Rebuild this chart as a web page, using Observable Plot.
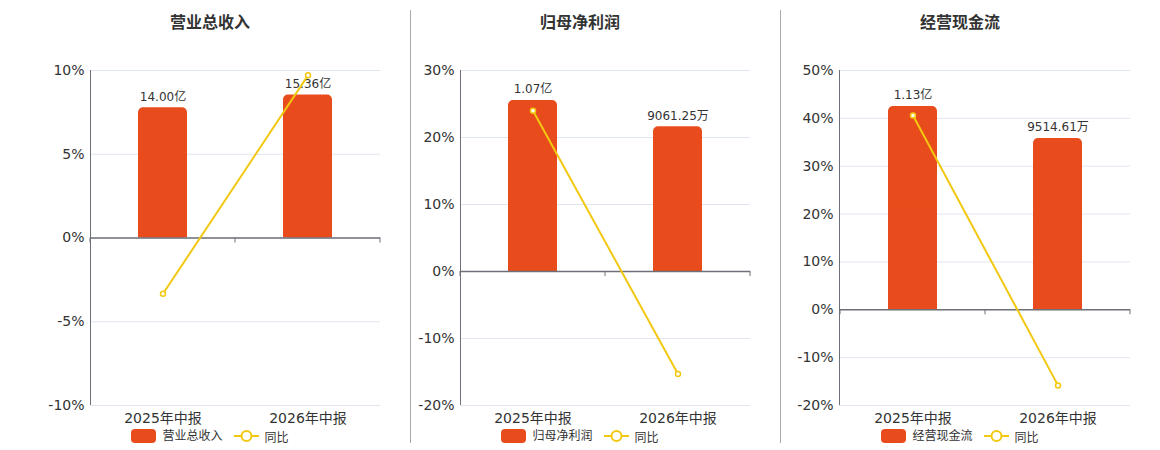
<!DOCTYPE html>
<html>
<head>
<meta charset="utf-8">
<script src="https://cdn.jsdelivr.net/npm/d3@7"></script>
<script src="https://cdn.jsdelivr.net/npm/@observablehq/plot@0.6"></script>
<style>
  html, body { margin: 0; padding: 0; background: #fff; }
  #root { position: relative; width: 1160px; height: 450px; font-family: "DejaVu Sans", "Noto Sans CJK SC", sans-serif; color: #333; }
  .title { position: absolute; top: 0; height: 45px; line-height: 45px; width: 300px; text-align: center; font-size: 16px; font-weight: bold; color: #333; }
  .divider { position: absolute; top: 10px; height: 433px; width: 1px; background: #AAAAA5; }
  .legend { position: absolute; top: 429px; height: 14px; width: 300px; display: flex; justify-content: center; align-items: center; font-size: 12px; color: #333; }
  .legend .sw { width: 25px; height: 14px; border-radius: 4px; margin-right: 6px; }
  .legend .lbl { margin-right: 11px; line-height: 14px; }
  .legend svg { margin-right: 6px; }
  .panel { position: absolute; top: 45px; }
</style>
</head>
<body>
<div id="root"></div>
<script>
const categories = ["2025年中报", "2026年中报"];
const titles = ["营业总收入", "归母净利润", "经营现金流"];

const revenueValues = [14.00, 15.36];          // 亿
const revenueLabels = ["14.00亿", "15.36亿"];
const revenueYoY = [-3.33, 9.71];              // %

const profitValues = [1.07, 0.906125];         // 亿
const profitLabels = ["1.07亿", "9061.25万"];
const profitYoY = [24.0, -15.3];

const cashValues = [1.13, 0.951461];           // 亿
const cashLabels = ["1.13亿", "9514.61万"];
const cashYoY = [40.6, -15.8];

const yTicksRevenue = [-10, -5, 0, 5, 10];
const yTicksProfit = [-20, -10, 0, 10, 20, 30];
const yTicksCash = [-20, -10, 0, 10, 20, 30, 40, 50];

// hidden secondary (bar) axis maximum for each panel, aligned with the top % tick
const barAxisMax = [18, 1.258, 1.33];

const BAR = "#E84C1C";
const LINE = "#F2C811";
const AXIS = "#6E7079";
const FONT = '"DejaVu Sans", "Noto Sans CJK SC", sans-serif';

const panels = [
  {title: titles[0], values: revenueValues, labels: revenueLabels, yoy: revenueYoY, ticks: yTicksRevenue, barMax: barAxisMax[0], left: 0, width: 410, ml: 90, center: 210},
  {title: titles[1], values: profitValues, labels: profitLabels, yoy: profitYoY, ticks: yTicksProfit, barMax: barAxisMax[1], left: 411, width: 369, ml: 49, center: 580},
  {title: titles[2], values: cashValues, labels: cashLabels, yoy: cashYoY, ticks: yTicksCash, barMax: barAxisMax[2], left: 781, width: 379, ml: 58, center: 960}
];

const root = document.getElementById("root");

[410, 780].forEach(x => {
  const d = document.createElement("div");
  d.className = "divider";
  d.style.left = x + "px";
  root.appendChild(d);
});

panels.forEach(cfg => {
  const yMax = cfg.ticks[cfg.ticks.length - 1];
  const yMin = cfg.ticks[0];
  const data = categories.map((c, i) => ({
    cat: c,
    label: cfg.labels[i],
    yoy: cfg.yoy[i],
    b: cfg.values[i] / cfg.barMax * yMax
  }));

  const title = document.createElement("div");
  title.className = "title";
  title.style.left = (cfg.center - 150) + "px";
  title.textContent = cfg.title;
  root.appendChild(title);

  const H = 385, MT = 25, MB = 25, MR = 30;
  const plot = Plot.plot({
    width: cfg.width,
    height: H,
    marginLeft: cfg.ml,
    marginRight: MR,
    marginTop: MT,
    marginBottom: MB,
    style: {fontFamily: FONT, fontSize: "14px", color: "#333", background: "transparent", overflow: "visible"},
    x: {domain: categories, padding: 0, label: null},
    y: {domain: [yMin, yMax], label: null},
    marks: [
      Plot.gridY(cfg.ticks, {stroke: "#E0E6F1", strokeOpacity: 1}),
      Plot.axisY(cfg.ticks, {tickSize: 0, tickPadding: 6, tickFormat: d => d + "%", fontSize: 14, fill: "#333", label: null}),
      Plot.axisX({tickSize: 0, tickPadding: 8, fontSize: 14, fill: "#333", label: null}),
      Plot.barY(data, {x: "cat", y: "b", fill: BAR, insetLeft: 48, insetRight: 48, rx: 5}),
      Plot.barY(data, {x: "cat", y1: 0, y2: d => d.b / 2, fill: BAR, insetLeft: 48, insetRight: 48}),
      Plot.ruleY([0], {stroke: AXIS, strokeWidth: 1.5}),
      Plot.text(data, {x: "cat", y: "b", text: "label", dy: -11, fontSize: 12, fill: "#333"}),
      Plot.line(data, {x: "cat", y: "yoy", stroke: LINE, strokeWidth: 2}),
      Plot.dot(data, {x: "cat", y: "yoy", r: 2.5, fill: "#fff", stroke: LINE, strokeWidth: 1.5})
    ]
  });

  // left axis line and category boundary ticks, via the plot's own scales
  const xs = plot.scale("x");
  const ys = plot.scale("y");
  const svg = d3.select(plot);
  const y0 = ys.apply(0);
  svg.append("line")
    .attr("x1", cfg.ml + 0.5).attr("x2", cfg.ml + 0.5)
    .attr("y1", MT).attr("y2", H - MB)
    .attr("stroke", AXIS).attr("stroke-width", 1);
  const bounds = categories.map(c => xs.apply(c)).concat([xs.range[1]]);
  svg.append("g").selectAll("line").data(bounds).join("line")
    .attr("x1", d => d).attr("x2", d => d)
    .attr("y1", y0).attr("y2", y0 + 5)
    .attr("stroke", AXIS).attr("stroke-width", 1);

  const wrap = document.createElement("div");
  wrap.className = "panel";
  wrap.style.left = cfg.left + "px";
  wrap.appendChild(plot);
  root.appendChild(wrap);

  const legend = document.createElement("div");
  legend.className = "legend";
  legend.style.left = (cfg.center - 150) + "px";
  legend.innerHTML =
    `<div class="sw" style="background:${BAR}"></div><span class="lbl">${cfg.title}</span>` +
    `<svg width="25" height="14"><line x1="0" x2="25" y1="7" y2="7" stroke="${LINE}" stroke-width="2"></line>` +
    `<circle cx="12.5" cy="7" r="5" fill="#fff" stroke="${LINE}" stroke-width="2"></circle></svg>` +
    `<span>同比</span>`;
  root.appendChild(legend);
});
</script>
</body>
</html>
